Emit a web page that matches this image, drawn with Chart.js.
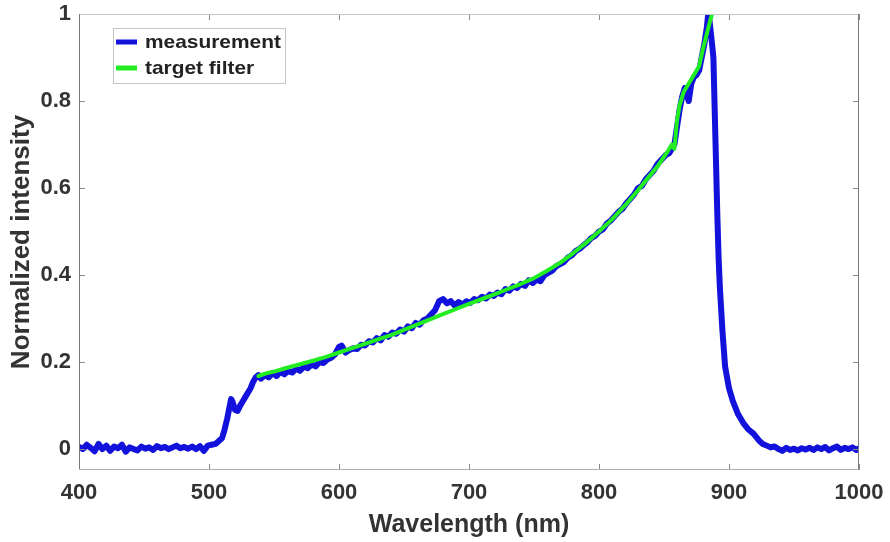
<!DOCTYPE html>
<html>
<head>
<meta charset="utf-8">
<script src="https://cdn.jsdelivr.net/npm/chart.js@4"></script>
<style>
html,body{margin:0;padding:0;background:#fff;}
#wrap{position:relative;width:890px;height:542px;}
</style>
</head>
<body>
<div id="wrap"><canvas id="c" width="890" height="542"></canvas></div>
<script>
// ---- data ----
const measWavelength = [
400,403,406,409,412,415,418,421,424,427,430,433,436,439,442,445,448,451,454,457,460,463,466,469,472,475,478,481,484,487,490,493,496,499,502,505,
508,510,512,514,516,517,518,520,522,524,526,528,530,532,534,536,538,
540,543,546,549,552,555,558,561,564,567,570,573,576,579,582,585,588,591,594,597,600,602,605,608,611,614,617,620,623,626,629,632,635,638,641,644,647,650,653,656,659,662,665,668,671,674,677,680,683,686,689,692,695,698,
701,704,707,710,713,716,719,722,725,728,731,734,737,740,743,746,749,752,755,758,761,764,767,770,773,776,779,782,785,788,791,794,797,
800,803,806,809,812,815,818,821,824,827,830,833,836,839,842,845,848,851,854,856,858,860,862,864,866,868,869,871,873,875,877,879,881,883,884,885,887,888,889,890,891,892,893,895,897,900,903,907,911,915,919,923,
926,929,932,935,938,941,944,947,950,953,956,959,962,965,968,971,974,977,980,983,986,989,992,995,998,1000
];
const measValue = [
0.005,0.0,0.01,0.003,-0.005,0.012,0.0,0.008,-0.004,0.006,0.002,0.01,-0.006,0.004,0.0,-0.003,0.006,0.001,0.004,-0.002,0.007,0.002,0.005,0.0,0.004,0.008,0.002,0.005,0.001,0.006,0.0,0.007,-0.004,0.008,0.01,0.012,
0.02,0.025,0.045,0.07,0.1,0.115,0.11,0.09,0.088,0.1,0.11,0.12,0.13,0.14,0.155,0.165,0.17,
0.162,0.17,0.165,0.175,0.168,0.178,0.172,0.18,0.176,0.185,0.18,0.19,0.186,0.195,0.19,0.2,0.198,0.206,0.21,0.218,0.235,0.238,0.222,0.228,0.232,0.23,0.24,0.238,0.248,0.245,0.255,0.25,0.262,0.258,0.268,0.265,0.275,0.27,0.282,0.278,0.29,0.286,0.296,0.3,0.31,0.32,0.34,0.345,0.335,0.34,0.33,0.338,0.332,0.34,
0.336,0.345,0.342,0.35,0.346,0.355,0.352,0.36,0.356,0.368,0.364,0.374,0.37,0.38,0.375,0.388,0.382,0.39,0.386,0.4,0.405,0.41,0.42,0.425,0.43,0.44,0.445,0.455,0.46,0.468,0.475,0.485,0.49,
0.5,0.505,0.518,0.525,0.535,0.545,0.552,0.565,0.575,0.585,0.6,0.605,0.62,0.63,0.64,0.655,0.665,0.675,0.68,0.69,0.7,0.74,0.78,0.81,0.83,0.81,0.8,0.84,0.855,0.86,0.87,0.9,0.93,0.97,1.0,0.985,0.93,0.9,0.78,0.66,0.54,0.44,0.37,0.27,0.19,0.14,0.11,0.08,0.06,0.045,0.035,0.02,
0.012,0.008,0.004,0.006,0.0,-0.004,0.003,-0.002,0.001,-0.003,0.002,-0.001,0.003,-0.002,0.004,0.0,0.005,-0.003,0.002,0.006,-0.002,0.003,0.0,0.004,-0.002,0.002
];
const targetWavelength = [538,545,550,560,570,580,590,600,610,620,630,640,650,660,670,680,690,700,710,720,730,740,750,760,770,780,790,800,810,820,830,840,845,850,853,856,858,860,862,865,868,871,874,877,880,883,886,887];
const targetValue = [0.168,0.175,0.178,0.187,0.195,0.203,0.212,0.222,0.232,0.242,0.252,0.262,0.274,0.286,0.298,0.31,0.322,0.334,0.345,0.356,0.368,0.38,0.393,0.41,0.428,0.45,0.474,0.5,0.528,0.56,0.595,0.632,0.65,0.672,0.685,0.70,0.69,0.755,0.79,0.82,0.835,0.85,0.865,0.88,0.92,0.955,0.99,1.0];
const xTicks = [400,500,600,700,800,900,1000];
const yTicks = [0,0.2,0.4,0.6,0.8,1];
const seriesLabels = ['measurement','target filter'];
const seriesColors = ['#1212dc','#22ee22'];

const toPts = (xs, ys) => xs.map((x, i) => ({x: x, y: ys[i]}));

const FONT = "'Liberation Sans', Arial, Helvetica, sans-serif";

const framePlugin = {
  id: 'frame',
  afterDatasetsDraw(chart) {
    const {ctx, chartArea: a, scales} = chart;
    ctx.save();
    // inward ticks (mirrored)
    ctx.strokeStyle = '#8a8a8a';
    ctx.lineWidth = 1;
    const tl = 6;
    xTicks.forEach(v => {
      const px = Math.round(scales.x.getPixelForValue(v)) + 0.5;
      ctx.beginPath();
      ctx.moveTo(px, a.bottom); ctx.lineTo(px, a.bottom - tl);
      ctx.moveTo(px, a.top); ctx.lineTo(px, a.top + tl);
      ctx.stroke();
    });
    yTicks.forEach(v => {
      const py = Math.round(scales.y.getPixelForValue(v)) + 0.5;
      ctx.beginPath();
      ctx.moveTo(a.left, py); ctx.lineTo(a.left + tl, py);
      ctx.moveTo(a.right, py); ctx.lineTo(a.right - tl, py);
      ctx.stroke();
    });
    // box
    ctx.strokeStyle = '#c8c8c8';
    ctx.beginPath();
    ctx.moveTo(a.left, a.top + 0.5); ctx.lineTo(a.right, a.top + 0.5);
    ctx.stroke();
    ctx.strokeStyle = '#7a7a7a';
    ctx.beginPath();
    ctx.moveTo(a.left + 0.5, a.top); ctx.lineTo(a.left + 0.5, a.bottom);
    ctx.moveTo(a.right - 0.5, a.top); ctx.lineTo(a.right - 0.5, a.bottom);
    ctx.stroke();
    ctx.strokeStyle = '#b0b0b0';
    ctx.beginPath();
    ctx.moveTo(a.left, a.bottom - 0.5); ctx.lineTo(a.right, a.bottom - 0.5);
    ctx.stroke();

    // legend
    const lx = 113, ly = 28, lw = 172, lh = 55;
    ctx.fillStyle = '#fff';
    ctx.fillRect(lx, ly, lw, lh);
    ctx.strokeStyle = '#c4c4c4';
    ctx.strokeRect(lx + 0.5, ly + 0.5, lw, lh);
    ctx.textBaseline = 'middle';
    ctx.textAlign = 'left';
    const rows = [42, 68];
    chart.data.datasets.forEach((ds, i) => {
      ctx.strokeStyle = ds.borderColor;
      ctx.lineWidth = 5;
      ctx.beginPath();
      ctx.moveTo(116, rows[i]); ctx.lineTo(137, rows[i]);
      ctx.stroke();
      ctx.save();
      ctx.translate(145, rows[i] + 1);
      ctx.scale(1.1, 1);
      ctx.font = 'bold 19px ' + FONT;
      ctx.fillStyle = '#222';
      ctx.fillText(ds.label, 0, 0);
      ctx.restore();
    });
    ctx.restore();
  }
};

new Chart(document.getElementById('c'), {
  type: 'line',
  data: {
    datasets: [
      {label: seriesLabels[0], data: toPts(measWavelength, measValue), borderColor: seriesColors[0], backgroundColor: seriesColors[0], borderWidth: 6, pointRadius: 0, tension: 0, order: 1, borderJoinStyle: 'round', borderCapStyle: 'round'},
      {label: seriesLabels[1], data: toPts(targetWavelength, targetValue), borderColor: seriesColors[1], backgroundColor: seriesColors[1], borderWidth: 4, pointRadius: 0, tension: 0, order: 0, borderJoinStyle: 'round', borderCapStyle: 'round'}
    ]
  },
  options: {
    responsive: false,
    animation: false,
    layout: {padding: {left: 0, right: 31, top: 14, bottom: 0}},
    plugins: {legend: {display: false}, tooltip: {enabled: false}},
    scales: {
      x: {
        type: 'linear', min: 400, max: 1000,
        afterBuildTicks: s => { s.ticks = xTicks.map(v => ({value: v})); },
        afterFit: s => { s.height = 72; s.paddingLeft = 0; s.paddingRight = 0; },
        grid: {display: false, drawTicks: false},
        border: {display: false},
        ticks: {color: '#333', padding: 10, font: {family: FONT, size: 22, weight: 'bold'}, maxRotation: 0, callback: v => String(v)},
        title: {display: true, text: 'Wavelength (nm)', color: '#333', font: {family: FONT, size: 25, weight: 'bold'}, padding: {top: 0, bottom: 2}}
      },
      y: {
        type: 'linear', min: -0.048, max: 1,
        afterBuildTicks: s => { s.ticks = yTicks.map(v => ({value: v})); },
        afterFit: s => { s.width = 79; s.paddingTop = 0; s.paddingBottom = 0; },
        grid: {display: false, drawTicks: false},
        border: {display: false},
        ticks: {color: '#333', padding: 8, font: {family: FONT, size: 22, weight: 'bold'}, callback: v => String(Math.round(v * 10) / 10)},
        title: {display: true, text: 'Normalized intensity', color: '#333', font: {family: FONT, size: 26, weight: 'bold'}, padding: {top: 6, bottom: 0}}
      }
    }
  },
  plugins: [framePlugin]
});
</script>
</body>
</html>
